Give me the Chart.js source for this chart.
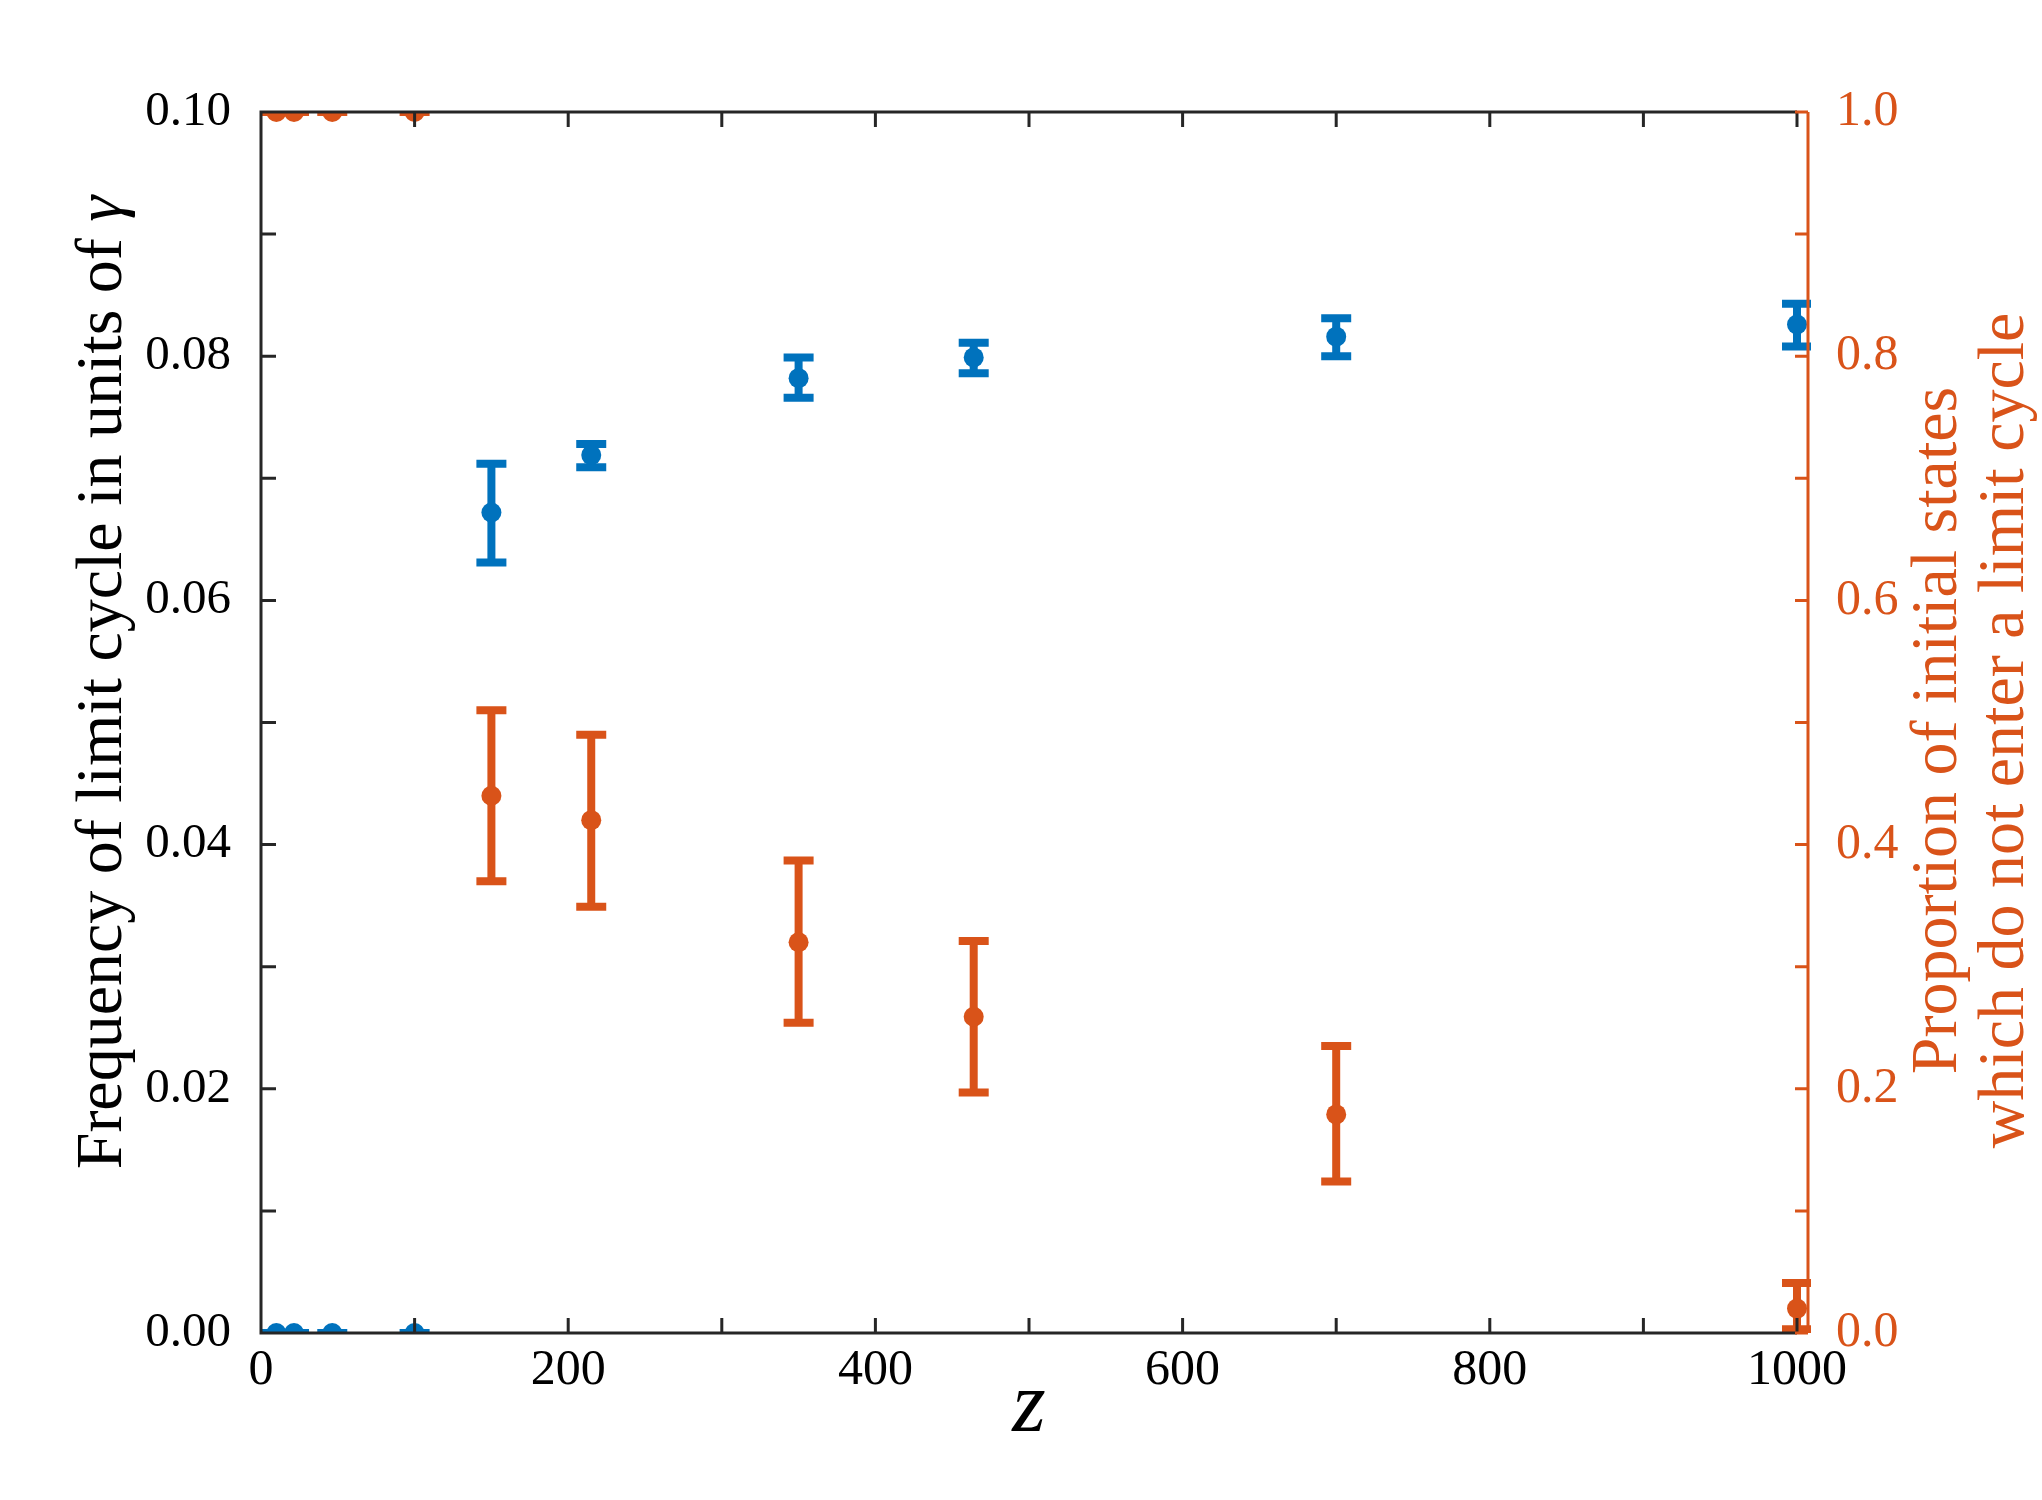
<!DOCTYPE html>
<html>
<head>
<meta charset="utf-8">
<script src="https://cdn.jsdelivr.net/npm/chart.js"></script>
<style>
  html, body { margin: 0; padding: 0; background: #fff; }
  .chartBox { width: 2042px; height: 1500px; }
</style>
</head>
<body>
<div class="chartBox"><canvas id="myChart"></canvas></div>
<script>
// z values (x axis)
const zValues = [10, 21.5, 46.4, 100, 150, 215, 350, 464, 700, 1000];

// frequency of limit cycle, units of gamma (left axis) + error bar ends
const freqValues = [0, 0, 0, 0, 0.0672, 0.0719, 0.0782, 0.0799, 0.0816, 0.0826];
const freqLower  = [0, 0, 0, 0, 0.0631, 0.0709, 0.0766, 0.0786, 0.0800, 0.0808];
const freqUpper  = [0, 0, 0, 0, 0.0712, 0.0728, 0.0799, 0.0811, 0.0831, 0.0843];

// proportion of initial states not entering a limit cycle (right axis)
const propValues = [1, 1, 1, 1, 0.440, 0.420, 0.320, 0.259, 0.179, 0.020];
const propLower  = [1, 1, 1, 1, 0.370, 0.349, 0.254, 0.197, 0.124, 0.003];
const propUpper  = [1, 1, 1, 1, 0.510, 0.490, 0.387, 0.321, 0.235, 0.041];

// tick labels (ticks without a label are left blank)
const xTickLabels = [0, 200, 400, 600, 800, 1000];
const leftTickLabels = ['0.00', '0.02', '0.04', '0.06', '0.08', '0.10'];
const rightTickLabels = ['0.0', '0.2', '0.4', '0.6', '0.8', '1.0'];

const blue = '#0072BD';
const orange = '#D95319';
const axisBlack = '#262626';
const serif = '"Liberation Serif", serif';
const titleSize = 66;

// error bars with caps, drawn through the chart scales
const errorBars = {
  id: 'errorBars',
  beforeDatasetsDraw(chart) {
    const {ctx, chartArea: a, scales} = chart;
    ctx.save();
    ctx.beginPath();
    ctx.rect(a.left, a.top, a.right - a.left + 14, a.bottom - a.top);
    ctx.clip();
    chart.data.datasets.forEach(ds => {
      const yScale = scales[ds.yAxisID];
      ctx.strokeStyle = ds.backgroundColor;
      ctx.lineWidth = 8;
      ds.data.forEach((p, i) => {
        const x = scales.x.getPixelForValue(p.x);
        const lo = yScale.getPixelForValue(ds.lower[i]);
        const hi = yScale.getPixelForValue(ds.upper[i]);
        ctx.beginPath();
        ctx.moveTo(x, lo); ctx.lineTo(x, hi);
        ctx.moveTo(x - 15, lo); ctx.lineTo(x + 15, lo);
        ctx.moveTo(x - 15, hi); ctx.lineTo(x + 15, hi);
        ctx.stroke();
      });
    });
    ctx.restore();
  }
};

// box with inward ticks, right axis in orange
const axesFrame = {
  id: 'axesFrame',
  afterDatasetsDraw(chart) {
    const {ctx, chartArea: a, scales} = chart;
    const tl = 15;
    ctx.save();
    ctx.strokeStyle = axisBlack;
    ctx.lineWidth = 3;
    ctx.beginPath();
    ctx.moveTo(a.right, a.top); ctx.lineTo(a.left, a.top);
    ctx.lineTo(a.left, a.bottom); ctx.lineTo(a.right, a.bottom);
    scales.x.ticks.forEach(t => {
      const px = scales.x.getPixelForValue(t.value);
      ctx.moveTo(px, a.bottom); ctx.lineTo(px, a.bottom - tl);
      ctx.moveTo(px, a.top); ctx.lineTo(px, a.top + tl);
    });
    scales.y.ticks.forEach(t => {
      const py = scales.y.getPixelForValue(t.value);
      ctx.moveTo(a.left, py); ctx.lineTo(a.left + tl, py);
    });
    ctx.stroke();

    const rx = a.right + 11;
    ctx.strokeStyle = orange;
    ctx.lineWidth = 3;
    ctx.beginPath();
    ctx.moveTo(rx, a.top); ctx.lineTo(rx, a.bottom);
    scales.y1.ticks.forEach(t => {
      const py = scales.y1.getPixelForValue(t.value);
      ctx.moveTo(rx, py); ctx.lineTo(rx - 13, py);
    });
    ctx.stroke();
    ctx.restore();
  }
};

// y titles (both read bottom to top)
const sideTitles = {
  id: 'sideTitles',
  afterDraw(chart) {
    const {ctx, chartArea: a} = chart;
    const midY = (a.top + a.bottom) / 2;
    const plain = titleSize + 'px ' + serif;
    const italic = 'italic ' + titleSize + 'px ' + serif;
    ctx.save();
    ctx.textBaseline = 'middle';
    ctx.translate(104, midY - 40);
    ctx.rotate(-Math.PI / 2);
    const main = 'Frequency of limit cycle in units of ';
    ctx.font = plain;
    const w1 = ctx.measureText(main).width;
    ctx.font = italic;
    const w2 = ctx.measureText('γ').width;
    ctx.fillStyle = '#000';
    ctx.textAlign = 'left';
    ctx.font = plain;
    ctx.fillText(main, -(w1 + w2) / 2, 0);
    ctx.font = italic;
    ctx.fillText('γ', -(w1 + w2) / 2 + w1, 0);
    ctx.restore();

    ctx.save();
    ctx.textBaseline = 'middle';
    ctx.textAlign = 'center';
    ctx.fillStyle = orange;
    ctx.font = plain;
    ctx.translate(1939, midY + 8);
    ctx.rotate(-Math.PI / 2);
    ctx.fillText('Proportion of initial states', 0, 0);
    ctx.fillText('which do not enter a limit cycle', 0, 67);
    ctx.restore();
  }
};

const data = {
  datasets: [{
    label: 'Frequency of limit cycle',
    data: zValues.map((z, i) => ({x: z, y: freqValues[i]})),
    lower: freqLower,
    upper: freqUpper,
    yAxisID: 'y',
    backgroundColor: blue,
    borderColor: blue,
    borderWidth: 0,
    pointRadius: 10,
    pointHoverRadius: 10,
    clip: {left: 0, top: 0, right: 14, bottom: 0}
  }, {
    label: 'Proportion not entering a limit cycle',
    data: zValues.map((z, i) => ({x: z, y: propValues[i]})),
    lower: propLower,
    upper: propUpper,
    yAxisID: 'y1',
    backgroundColor: orange,
    borderColor: orange,
    borderWidth: 0,
    pointRadius: 10,
    pointHoverRadius: 10,
    clip: {left: 0, top: 0, right: 14, bottom: 0}
  }]
};

// config
const config = {
  type: 'scatter',
  data,
  options: {
    responsive: true,
    maintainAspectRatio: false,
    animation: false,
    layout: { padding: { top: 112 } },
    plugins: {
      legend: { display: false },
      tooltip: { enabled: false }
    },
    scales: {
      x: {
        type: 'linear',
        min: 0,
        max: 1000,
        afterFit: s => { s.height = 167; },
        grid: { display: false },
        border: { display: false },
        ticks: {
          stepSize: 100,
          autoSkip: false,
          maxRotation: 0,
          padding: 0,
          color: '#000',
          font: { family: serif, size: 50 },
          callback: v => xTickLabels.includes(v) ? String(v) : ''
        },
        title: {
          display: true,
          text: 'z',
          color: '#000',
          font: { family: serif, size: 86, style: 'italic' },
          padding: { top: 0, bottom: 40 }
        }
      },
      y: {
        position: 'left',
        min: 0,
        max: 0.1,
        afterFit: s => { s.width = 261; },
        grid: { display: false },
        border: { display: false },
        ticks: {
          stepSize: 0.01,
          autoSkip: false,
          padding: 22,
          color: '#000',
          font: { family: serif, size: 49 },
          callback: v => {
            const s = v.toFixed(2);
            return leftTickLabels.includes(s) ? s : '';
          }
        }
      },
      y1: {
        position: 'right',
        min: 0,
        max: 1,
        afterFit: s => { s.width = 245; },
        grid: { display: false },
        border: { display: false },
        ticks: {
          stepSize: 0.1,
          autoSkip: false,
          padding: 31,
          color: orange,
          font: { family: serif, size: 50 },
          callback: v => {
            const s = v.toFixed(1);
            return rightTickLabels.includes(s) ? s : '';
          }
        }
      }
    }
  },
  plugins: [errorBars, axesFrame, sideTitles]
};

// render init block
const myChart = new Chart(document.getElementById('myChart'), config);
</script>
</body>
</html>
